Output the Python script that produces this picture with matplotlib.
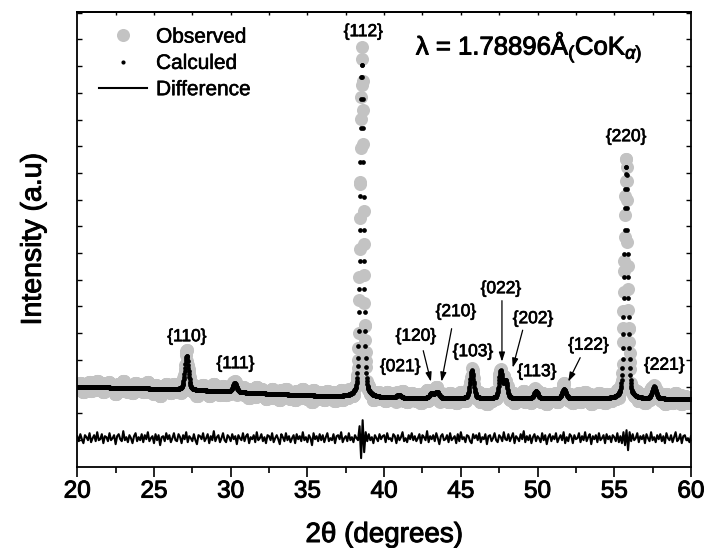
import numpy as np
import matplotlib
matplotlib.use("Agg")
import matplotlib.pyplot as plt
from matplotlib.lines import Line2D
import matplotlib.patheffects as pe

plt.rcParams['font.family'] = ['Liberation Sans', 'DejaVu Sans']
plt.rcParams['mathtext.fontset'] = 'custom'
plt.rcParams['mathtext.rm'] = 'Liberation Sans'
plt.rcParams['mathtext.it'] = 'Liberation Sans:italic'
plt.rcParams['mathtext.bf'] = 'Liberation Sans:bold'

# ---------------- data (intensity in a.u.) ----------------
# Reflections: label, 2theta position, calculated height above background, FWHM (deg)
hkl_labels = ['{110}', '{111}', '{112}', '{021}', '{120}', '{210}', '{103}',
              '{022}', '{202}', '{113}', '{122}', '{220}', '{221}']
peak_pos = [27.13, 30.26, 38.55, 40.95, 43.10, 43.45, 45.72,
            47.60, 47.92, 49.90, 51.73, 55.77, 57.60]
peak_height = [34, 9, 334, 3, 5, 6, 28, 27, 17, 7, 9, 233, 12]
peak_fwhm = [0.28, 0.30, 0.26, 0.30, 0.30, 0.30, 0.28, 0.26, 0.26, 0.30, 0.30, 0.27, 0.30]

# Background anchor points
bg_2theta = [20, 27, 30, 35, 38, 40, 50, 60]
bg_level = [80.0, 77.2, 74.7, 71.2, 69.7, 68.7, 68.2, 67.7]

# Difference (observed - calculated), 20.0 .. 60.0 deg, step 0.1 deg
difference = [
    2, -3, 4, -1, -5, 3, 1, -2, 5, -4, 0, 3, -3, 6, -2, -1, 4, -5, 2, 1,
    -3, 5, -2, 0, 3, -6, 2, 4, -1, -3, 7, -2, 1, -4, 3, 0, -5, 2, 5, -3,
    1, -2, 4, -4, 3, -1, 6, -3, 0, 2, -5, 4, -2, 3, -7, 1, 2, -3, 5, -1,
    3, -4, 0, 5, -2, -3, 4, 1, -5, 3, -1, 6, -4, 2, 0, -3, 4, -2, -6, 3,
    2, -1, 5, -3, 0, 4, -5, 2, -2, 7, -3, 1, 3, -4, 0, 5, -2, -4, 3, 1,
    -3, 4, -1, 2, -6, 3, 0, -2, 5, -3, 2, 4, -5, 1, -1, 3, -4, 6, -2, 0,
    4, -3, 1, -5, 3, 2, -2, 5, -4, 0, 3, -1, -6, 4, 1, -3, 5, -2, 2, -4,
    0, 3, -5, 4, -1, 2, -3, 6, -2, 1, -4, 3, 0, -7, 5, -1, 2, -3, 4, -2,
    3, -4, 1, 5, -3, 0, -2, 4, -5, 2, 3, -1, 6, -4, 0, 2, -3, 5, -2, 1,
    -4, 3, 0, -2, 12, -20, 18, -14, 6, -3, 4, -2, 1, -5, 3, 0, -3, 4, -1, 2,
    3, -4, 5, -1, 0, -3, 4, 2, -5, 3, -2, 1, 6, -3, 0, -4, 3, -1, 5, -2,
    2, -3, 0, 4, -5, 3, 1, -2, 7, -4, 2, -1, 3, -3, 5, 0, -6, 2, 4, -2,
    -1, 3, -4, 5, -2, 0, 2, -5, 4, -3, 6, -1, 1, -4, 3, 2, -3, -5, 4, 0,
    3, -2, 5, -4, 1, -1, 4, -6, 2, 3, -3, 0, 5, -2, -4, 3, 1, -3, 6, -1,
    -2, 4, -3, 1, 5, -5, 2, 0, -3, 4, -1, 7, -4, 2, -2, 3, -5, 1, 4, -3,
    2, 0, -4, 5, -2, 3, -6, 1, 4, -3, 2, -1, 5, -4, 0, 3, -2, 6, -5, 1,
    -3, 4, 2, -5, 3, -1, 0, 5, -4, 2, -2, 6, -3, 1, 4, -6, 2, -1, 3, -4,
    5, -2, 0, 3, -5, 4, -1, 2, -4, 3, 1, -3, 5, -4, 2, -5, 6, -7, 8, -12,
    6, -3, 4, -2, 0, 5, -4, 2, -1, 3, -5, 4, 0, -3, 6, -2, 1, -4, 3, -1,
    4, -3, 2, -5, 5, 0, -2, 3, -4, 1, 6, -3, -1, 4, -5, 2, 3, -2, 0, -4,
    2,
]
diff_offset = 28.5          # vertical offset of the difference curve

x_ticks = [20, 25, 30, 35, 40, 45, 50, 55, 60]
wavelength_text = 'λ = 1.78896Å${}_{(}$CoK$_{\\alpha)}$'

# ---------------- build profiles ----------------
two_theta = np.round(np.arange(20.0, 60.0001, 0.02), 2)
diff_2theta = np.round(np.arange(20.0, 60.0001, 0.1), 1)
background = np.interp(two_theta, bg_2theta, bg_level)

def pseudo_voigt(x, p, h, w, eta=0.3):
    d = (x - p) / w
    g = np.exp(-4 * np.log(2) * d ** 2)
    l = 1.0 / (1.0 + 4 * d ** 2)
    return h * (eta * l + (1 - eta) * g)

calculated = background.copy()
for p, h, w in zip(peak_pos, peak_height, peak_fwhm):
    calculated += pseudo_voigt(two_theta, p, h, w)

diff_arr = np.asarray(difference, dtype=float)
idx = np.rint((two_theta - 20.0) / 0.1).astype(int)
observed = calculated + diff_arr[idx]

# ---------------- figure ----------------
thick = [pe.withStroke(linewidth=0.7, foreground='black')]

fig = plt.figure(figsize=(7.05, 5.48), dpi=100)
ax = fig.add_axes([0.1096, 0.1484, 0.8705, 0.8303])

ax.plot(two_theta, observed, 'o', ms=9.4, color='#c3c3c3', mec='none', zorder=2)
ax.plot(two_theta, calculated, 'o', ms=3.4, color='black', mec='none', zorder=3)
ax.plot(diff_2theta, diff_arr + diff_offset, '-', color='black', lw=1.5, zorder=3)

ax.set_xlim(20, 60)
ax.set_ylim(0, 455)

# annotation labels (layout)
label_xy = [(27.15, 130), (30.32, 103), (38.65, 435), (41.05, 100), (42.07, 130.5),
            (44.68, 155), (45.79, 115), (47.61, 178), (49.70, 148), (49.96, 95),
            (53.32, 121.5), (55.77, 330), (58.26, 101.5)]
for lab, (lx, ly) in zip(hkl_labels, label_xy):
    ax.text(lx, ly, lab, ha='center', va='center', fontsize=12.5, zorder=5,
            path_effects=[pe.withStroke(linewidth=0.5, foreground='black')])

# arrows (tail -> tip), layout
arrows = {'{120}': ((42.55, 116), (43.05, 85)),
          '{210}': ((44.40, 138), (43.74, 85)),
          '{022}': ((47.68, 166), (47.68, 105)),
          '{202}': ((49.03, 136.5), (48.38, 99)),
          '{122}': ((52.78, 109), (52.00, 85))}
for lab, (tail, tip) in arrows.items():
    ax.annotate('', xy=tip, xytext=tail,
                arrowprops=dict(arrowstyle='-|>,head_length=0.55,head_width=0.18',
                                color='black', lw=0.9, shrinkA=0, shrinkB=0),
                zorder=5)

ax.text(42.07, 419.7, wavelength_text, ha='left', va='center', fontsize=18.5,
        path_effects=thick)

# axes styling
for s in ax.spines.values():
    s.set_linewidth(1.3)
ax.set_xticks(x_ticks)
ax.set_xticks(np.arange(22.5, 60, 5), minor=True)
ax.tick_params(axis='x', which='major', direction='out', length=7, width=1.2,
               labelsize=17.5, pad=3, top=False)
ax.tick_params(axis='x', which='minor', direction='out', length=4, width=1.2, top=False)
for t in ax.get_xticklabels():
    t.set_path_effects(thick)
ax.set_yticks(np.arange(26.7, 455, 26.7))
ax.tick_params(axis='y', which='both', direction='in', length=3.5, width=1.0,
               left=True, right=True, labelleft=False)
top = ax.secondary_xaxis('top')
top.set_xticks(np.arange(22.5, 60, 2.5))
top.tick_params(direction='in', length=2.5, width=1.0, labeltop=False)
top.spines['top'].set_linewidth(1.3)

ax.set_xlabel('2θ (degrees)', fontsize=20, labelpad=14, path_effects=thick)
ax.set_ylabel('Intensity (a.u)', fontsize=20.5, labelpad=22, path_effects=thick)

handles = [Line2D([], [], marker='o', ls='none', color='#c3c3c3', mec='none', ms=9.4),
           Line2D([], [], marker='o', ls='none', color='black', mec='none', ms=3.0),
           Line2D([], [], color='black', lw=1.5)]
leg = ax.legend(handles, ['Observed', 'Calculed', 'Difference'], loc='upper left',
                bbox_to_anchor=(0.035, 0.965), frameon=False, fontsize=15,
                handlelength=2.3, handletextpad=0.45, labelspacing=0.35,
                borderpad=0, borderaxespad=0)
for t in leg.get_texts():
    t.set_path_effects([pe.withStroke(linewidth=0.4, foreground='black')])

fig.savefig('out.png', dpi=100)
